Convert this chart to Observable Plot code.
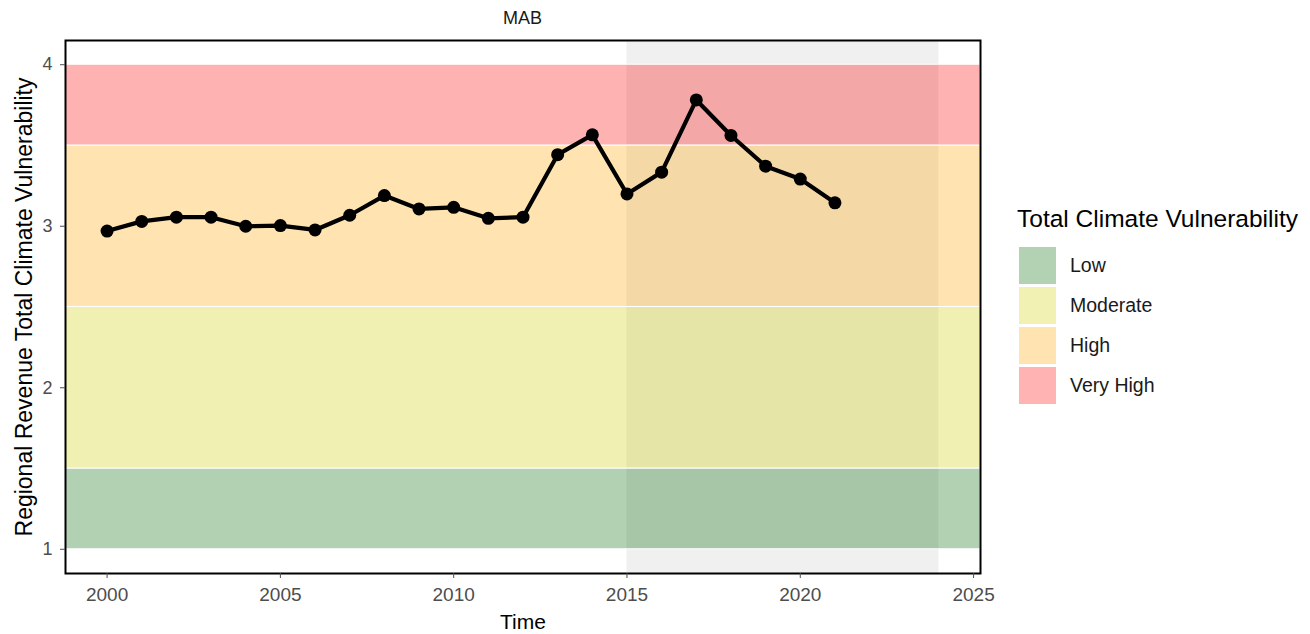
<!DOCTYPE html>
<html>
<head>
<meta charset="utf-8">
<script src="https://cdn.jsdelivr.net/npm/d3@7"></script>
<script src="https://cdn.jsdelivr.net/npm/@observablehq/plot@0.6"></script>
<style>
  html, body { margin: 0; padding: 0; background: #fff; }
  body { width: 1310px; height: 634px; position: relative; overflow: hidden; font-family: "Liberation Sans", Arial, sans-serif; }
  #title { position: absolute; left: 65px; width: 915px; top: 8px; line-height: 20px; text-align: center; font-size: 18px; color: #1a1a1a; }
  #chart { position: absolute; left: 0; top: 0; }
  #legend { position: absolute; left: 0; top: 0; }
  #legend .lt { position: absolute; left: 1017px; top: 205px; line-height: 28px; font-size: 24.5px; color: #000; white-space: nowrap; }
  #legend .sw { position: absolute; left: 1019px; width: 37px; height: 37px; }
  #legend .lab { position: absolute; left: 1070px; line-height: 37px; font-size: 19.5px; color: #1a1a1a; white-space: nowrap; }
</style>
</head>
<body>
<div id="chart"></div>
<div id="title">MAB</div>
<div id="legend"></div>
<script>
const years = [2000,2001,2002,2003,2004,2005,2006,2007,2008,2009,2010,2011,2012,2013,2014,2015,2016,2017,2018,2019,2020,2021];
const values = [2.97,3.03,3.056,3.056,3.0,3.004,2.977,3.068,3.19,3.107,3.117,3.049,3.056,3.443,3.566,3.20,3.335,3.782,3.562,3.372,3.292,3.145];
const bandLabels = ["Low","Moderate","High","Very High"];
const bandLow = [1,1.5,2.5,3.5];
const bandHigh = [1.5,2.5,3.5,4];
const bandColors = ["darkgreen","#CDCD00","orange","red"];
const bandLegendColors = ["#B3D1B3","#F1F1B3","#FFE4B2","#FFB3B3"];
const shadeStart = 2015, shadeEnd = 2024;
const xTicks = [2000,2005,2010,2015,2020,2025];
const yTicks = [1,2,3,4];

const series = years.map((y,i) => ({year: y, value: values[i]}));
const bands = bandLabels.map((l,i) => ({label: l, lo: bandLow[i], hi: bandHigh[i], color: bandColors[i]}));

const plot = Plot.plot({
  width: 1000,
  height: 634,
  marginLeft: 65,
  marginRight: 20,
  marginTop: 40,
  marginBottom: 61,
  x: {domain: [1998.8, 2025.2]},
  y: {domain: [0.85, 4.15]},
  style: {fontFamily: "Liberation Sans, Arial, sans-serif", background: "white", fontSize: "18px"},
  marks: [
    Plot.rect([{a: shadeStart, b: shadeEnd}], {x1: "a", x2: "b", fill: "#f0f0f0"}),
    Plot.rect(bands, {y1: "lo", y2: "hi", fill: "color", fillOpacity: 0.3, stroke: "white", strokeWidth: 1}),
    Plot.line(series, {x: "year", y: "value", stroke: "black", strokeWidth: 4.2}),
    Plot.dot(series, {x: "year", y: "value", r: 6.5, fill: "black"}),
    Plot.frame({stroke: "black", strokeWidth: 2}),
    Plot.axisX({ticks: xTicks, tickFormat: d => String(d), tickSize: 5, tickPadding: 9, fontSize: 19, color: "#4d4d4d", label: null}),
    Plot.axisY({ticks: yTicks, tickFormat: d => String(d), tickSize: 5, tickPadding: 8, fontSize: 18, color: "#4d4d4d", label: null}),
    Plot.text(["Time"], {frameAnchor: "bottom", dy: 49, fontSize: 21, fill: "black", lineAnchor: "middle"}),
    Plot.text(["Regional Revenue Total Climate Vulnerability"], {frameAnchor: "left", textAnchor: "middle", lineAnchor: "middle", dx: -41, rotate: -90, fontSize: 23, fill: "black"})
  ]
});
document.getElementById("chart").appendChild(plot);

const leg = document.getElementById("legend");
const t = document.createElement("div");
t.className = "lt"; t.textContent = "Total Climate Vulnerability";
leg.appendChild(t);
bandLabels.forEach((l,i) => {
  const s = document.createElement("div"); s.className = "sw";
  s.style.background = bandLegendColors[i]; s.style.top = (247 + 40 * i) + "px";
  const lb = document.createElement("div"); lb.className = "lab"; lb.textContent = l;
  lb.style.top = (247 + 40 * i) + "px";
  leg.appendChild(s); leg.appendChild(lb);
});
</script>
</body>
</html>
